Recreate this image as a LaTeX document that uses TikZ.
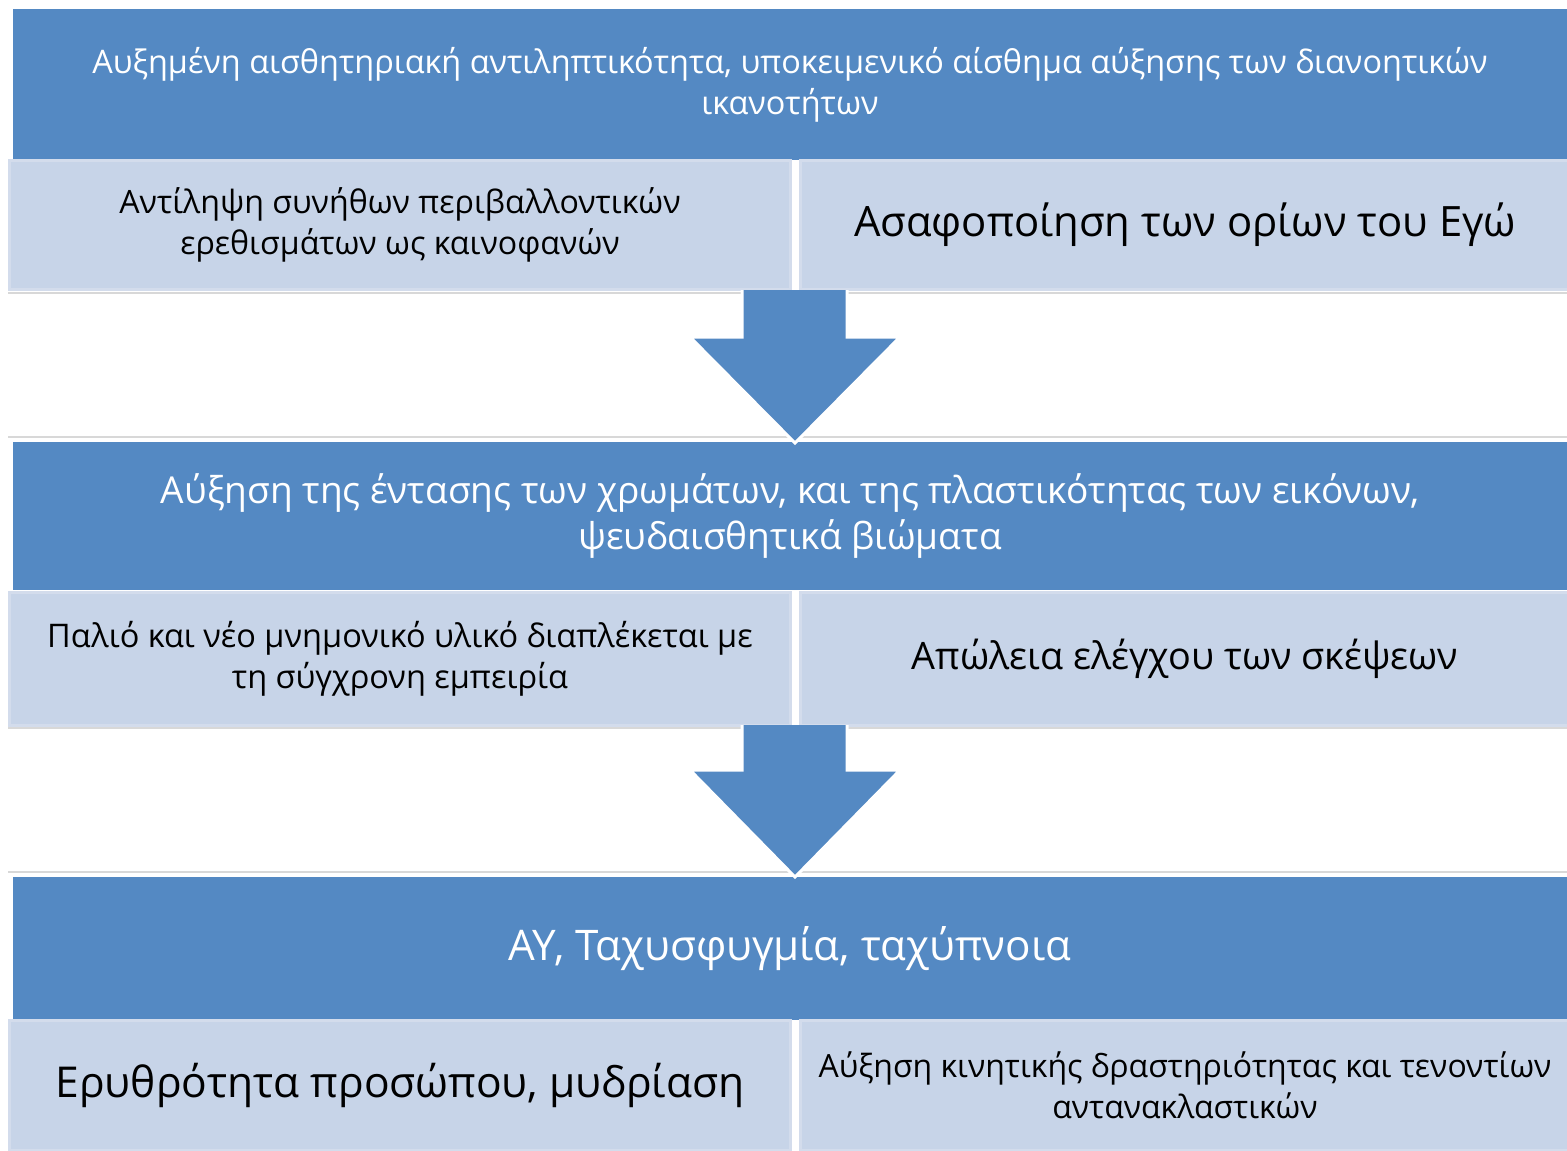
\documentclass[tikz,border=0pt]{standalone}
\usepackage{fontspec}
\setmainfont{Open Sans}
\usetikzlibrary{positioning}
\definecolor{bandblue}{HTML}{5489C3}
\definecolor{boxblue}{HTML}{C7D4E8}
\definecolor{gapblue}{HTML}{D3DCEC}
\definecolor{ruleGray}{HTML}{D8D8D8}

\begin{document}
\begin{tikzpicture}[x=0.02cm, y=-0.02cm,
        band/.style = {fill=bandblue, text=white, minimum width=31.08cm,
                align=center, inner sep=0pt},
        cell/.style = {fill=boxblue, draw=gapblue, line width=0.06cm, text=black,
                align=center, inner sep=0pt, minimum height=2.6cm},
        leftcell/.style = {cell, minimum width=15.62cm},
        rightcell/.style = {cell, minimum width=15.4cm},
        sepline/.style = {draw=ruleGray, line width=0.03cm},
        flowarrow/.style = {fill=bandblue, draw=white, line width=0.06cm, line join=miter},
    ]
    \useasboundingbox (0,0) rectangle (1567,1150);

    % stage 1
    \node[band, minimum height=3.02cm, font=\fontsize{18.45}{23.3}\selectfont] (band1) at (790,84.5)
        {Αυξημένη αισθητηριακή αντιληπτικότητα, υποκειμενικό αίσθημα αύξησης των διανοητικών\\ικανοτήτων};
    \node[leftcell, font=\fontsize{18.3}{23.3}\selectfont] (cell1l) at (400,225)
        {Αντίληψη συνήθων περιβαλλοντικών\\ερεθισμάτων ως καινοφανών};
    \node[rightcell, font=\fontsize{23.8}{28}\selectfont] (cell1r) at (1185,225)
        {Ασαφοποίηση των ορίων του Εγώ};

    % stage 2
    \node[band, minimum height=2.96cm, font=\fontsize{21.1}{26.7}\selectfont] (band2) at (790,516)
        {Αύξηση της έντασης των χρωμάτων, και της πλαστικότητας των εικόνων,\\ψευδαισθητικά βιώματα};
    \node[leftcell, minimum height=2.66cm, font=\fontsize{18.5}{23.3}\selectfont] (cell2l) at (400,658.5)
        {Παλιό και νέο μνημονικό υλικό διαπλέκεται με\\τη σύγχρονη εμπειρία};
    \node[rightcell, minimum height=2.66cm, font=\fontsize{21.5}{26}\selectfont] (cell2r) at (1185,658.5)
        {Απώλεια ελέγχου των σκέψεων};

    % stage 3
    \node[band, minimum height=2.86cm, font=\fontsize{24}{28}\selectfont] (band3) at (790,948.5)
        {ΑΥ, Ταχυσφυγμία, ταχύπνοια};
    \node[leftcell, font=\fontsize{24.2}{28}\selectfont] (cell3l) at (400,1085)
        {Ερυθρότητα προσώπου, μυδρίαση};
    \node[rightcell, font=\fontsize{18.2}{23.3}\selectfont] (cell3r) at (1185,1085)
        {Αύξηση κινητικής δραστηριότητας και τενοντίων\\αντανακλαστικών};

    % faint rules between the stages
    \foreach \y in {293,437,728,872}
        {
            \draw[sepline] (8,\y) -- (1567,\y);
        }

    % block arrows
    \foreach \top/\head/\tip in {290/337/443, 725/770/877}
        {
            \path[flowarrow] (742,\top) -- (742,\head) -- (690,\head) -- (795,\tip)
                -- (900,\head) -- (847,\head) -- (847,\top);
        }
\end{tikzpicture}
\end{document}
